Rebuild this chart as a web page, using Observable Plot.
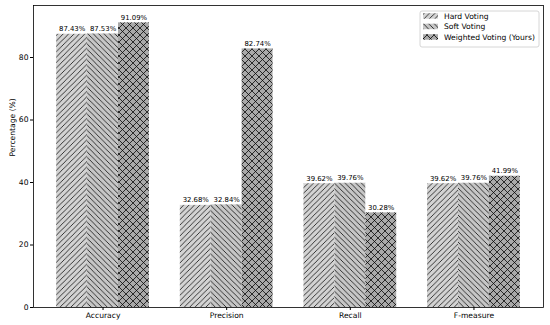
<!DOCTYPE html>
<html><head><meta charset="utf-8">
<script src="https://cdn.jsdelivr.net/npm/d3@7"></script>
<script src="https://cdn.jsdelivr.net/npm/@observablehq/plot@0.6"></script>
<style>body{margin:0;background:#fff} #chart{width:550px;height:325px}</style>
</head><body><div id="chart"></div>
<script>
const categories = ["Accuracy", "Precision", "Recall", "F-measure"];
const methods = ["Hard Voting", "Soft Voting", "Weighted Voting (Yours)"];
const hardVoting = [87.43, 32.68, 39.62, 39.62];
const softVoting = [87.53, 32.84, 39.76, 39.76];
const weightedVoting = [91.09, 82.74, 30.28, 41.99];
const yTicks = [0, 20, 40, 60, 80];

const seriesValues = [hardVoting, softVoting, weightedVoting];
const patternIds = ["hatch-hard", "hatch-soft", "hatch-weighted"];
const barWidth = 0.25;
const rows = [];
methods.forEach((m, j) => categories.forEach((c, i) => {
  const center = i + (j - 1) * barWidth;
  rows.push({method: m, series: j, category: c, value: seriesValues[j][i],
             x1: center - barWidth / 2, x2: center + barWidth / 2, xc: center});
}));

const font = "DejaVu Sans, sans-serif";
const plot = Plot.plot({
  width: 550, height: 325,
  marginLeft: 33, marginRight: 7, marginTop: 5, marginBottom: 18,
  style: {fontFamily: font, fontSize: "7.6px", background: "white", color: "black"},
  x: {type: "linear", domain: [-0.5625, categories.length - 1 + 0.5625],
      ticks: d3.range(categories.length), tickFormat: i => categories[i],
      tickSize: 3, tickPadding: 2, label: null},
  y: {domain: [0, 96.64], ticks: yTicks, tickSize: 3, tickPadding: 2, label: null},
  color: {type: "identity"},
  marks: [
    Plot.rect(rows, {x1: "x1", x2: "x2", y1: 0, y2: "value",
                     fill: d => `url(#${patternIds[d.series]})`}),
    Plot.text(rows, {x: "xc", y: "value", text: d => d.value.toFixed(2) + "%",
                     lineAnchor: "bottom", dy: -3, fontSize: 6.9,
                     stroke: "white", strokeWidth: 2, fill: "black"}),
    Plot.text(["Percentage (%)"], {frameAnchor: "left", dx: -21, rotate: -90, fontSize: 7.6}),
    Plot.frame({stroke: "black", strokeWidth: 0.8})
  ]
});

// hatch patterns
const svg = d3.select(plot);
const defs = svg.insert("defs", ":first-child");
function makePattern(id, bg, p, dirs) {
  const pat = defs.append("pattern").attr("id", id).attr("patternUnits", "userSpaceOnUse")
    .attr("width", p).attr("height", p);
  pat.append("rect").attr("width", p).attr("height", p).attr("fill", bg);
  let d = "";
  if (dirs.includes("/")) d += `M${-p/4},${p/4}L${p/4},${-p/4}M0,${p}L${p},0M${3*p/4},${5*p/4}L${5*p/4},${3*p/4}`;
  if (dirs.includes("\\")) d += `M${-p/4},${3*p/4}L${p/4},${5*p/4}M0,0L${p},${p}M${3*p/4},${-p/4}L${5*p/4},${p/4}`;
  pat.append("path").attr("d", d).attr("stroke", "black").attr("stroke-width", 0.75).attr("fill", "none");
}
makePattern("hatch-hard", "#d3d3d3", 5.4, "/");
makePattern("hatch-soft", "#c6c6c6", 5.4, "\\");
makePattern("hatch-weighted", "#a9a9a9", 7, "/\\");

// legend
const lg = svg.append("g").attr("font-family", font).attr("font-size", "7.6px").attr("text-anchor", "start");
lg.append("rect").attr("x", 420).attr("y", 11).attr("width", 119).attr("height", 36)
  .attr("rx", 2).attr("fill", "white").attr("fill-opacity", 0.8).attr("stroke", "#cccccc").attr("stroke-width", 0.8);
methods.forEach((m, j) => {
  const cy = 16 + j * 10.5;
  lg.append("rect").attr("x", 423).attr("y", cy - 2.8).attr("width", 15).attr("height", 5.5)
    .attr("fill", `url(#${patternIds[j]})`);
  lg.append("text").attr("x", 444).attr("y", cy).attr("dy", "0.35em").attr("text-anchor", "start")
    .attr("fill", "black").text(m);
});

document.getElementById("chart").appendChild(plot);
</script>
</body></html>
